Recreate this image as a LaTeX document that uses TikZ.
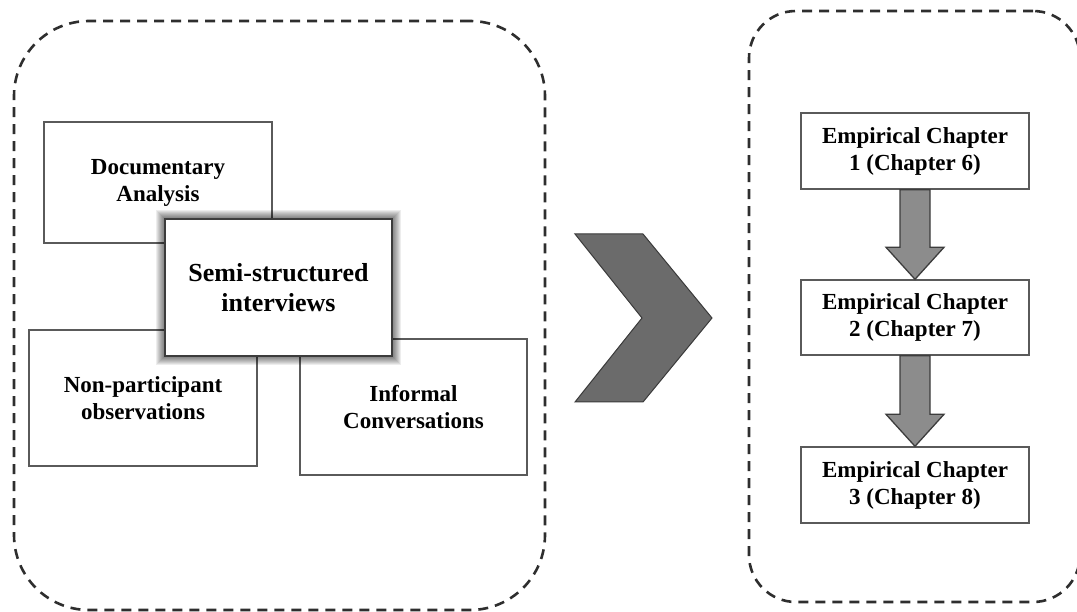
\documentclass[tikz,border=0pt]{standalone}
\usepackage{fontspec}
\setmainfont{Liberation Serif}
\usetikzlibrary{calc}
\pgfdeclarelayer{glow}
\pgfdeclarelayer{front}
\pgfsetlayers{main,glow,front}
\definecolor{dashgrey}{HTML}{2E2E2E}
\definecolor{boxline}{HTML}{5A5A5A}
\definecolor{keyline}{HTML}{3C3C3C}
\definecolor{chevfill}{HTML}{6B6B6B}
\definecolor{chevline}{HTML}{3A3A3A}
\definecolor{arrowfill}{HTML}{8C8C8C}
\tikzset{
  group/.style={draw=dashgrey, line width=2.6pt, dash pattern=on 10pt off 7pt, inner sep=0pt},
  method/.style={draw=boxline, line width=1.4pt, fill=white, inner sep=0pt, align=center,
    font=\bfseries\fontsize{23}{27}\selectfont},
  keymethod/.style={method, draw=keyline, line width=2pt,
    font=\bfseries\fontsize{26}{30}\selectfont},
  chapter/.style={method, minimum width=228pt, minimum height=76pt},
  blockarrow/.style={fill=arrowfill, draw=keyline, line width=1.3pt, line join=miter},
  chevron/.style={fill=chevfill, draw=chevline, line width=1pt, line join=miter}
}
\begin{document}
\begin{tikzpicture}[x=1pt, y=-1pt]
  \useasboundingbox (0,0) rectangle (1077,612);
  \clip (0,0) rectangle (1077,612);

  % dashed containers
  \node[group, rounded corners=75pt, minimum width=531pt, minimum height=589pt] (sources) at (279.5,315.5) {};
  \node[group, rounded corners=47pt, minimum width=331pt, minimum height=591pt] (chapters) at (914.5,306.5) {};

  % data sources
  \node[method, minimum width=228pt, minimum height=121pt] (doc) at (158,182.5) {Documentary\\Analysis};
  \node[method, minimum width=228pt, minimum height=136pt] (obs) at (143,398) {Non-participant\\observations};
  \node[method, minimum width=227pt, minimum height=136pt] (conv) at (413.5,407) {Informal\\Conversations};

  \begin{pgfonlayer}{front}
    \node[keymethod, minimum width=227pt, minimum height=137pt] (semi) at (278.5,287.5) {Semi-structured\\interviews};
  \end{pgfonlayer}
  \begin{pgfonlayer}{glow}
    \foreach \d in {1,...,8}
      \fill[black, opacity=0.07]
        ($(semi.south west)+(-\d,\d)$) rectangle ($(semi.north east)+(\d,-\d)$);
  \end{pgfonlayer}

  % chevron between the two groups
  \draw[chevron] (575,234) -- (643,234) -- (712,318) -- (643,402) -- (575,402) -- (642,318) -- cycle;

  % empirical chapters
  \node[chapter] (e1) at (915,151) {Empirical Chapter\\1 (Chapter 6)};
  \node[chapter, minimum height=75pt] (e2) at (915,317.5) {Empirical Chapter\\2 (Chapter 7)};
  \node[chapter] (e3) at (915,485) {Empirical Chapter\\3 (Chapter 8)};

  \foreach \a/\b in {e1/e2, e2/e3}
    \draw[blockarrow]
      ($(\a.south)+(-15,0)$) -- ($(\b.north)+(-15,-32)$) -- ($(\b.north)+(-29,-32)$)
      -- (\b.north)
      -- ($(\b.north)+(29,-32)$) -- ($(\b.north)+(15,-32)$) -- ($(\a.south)+(15,0)$) -- cycle;
\end{tikzpicture}
\end{document}
